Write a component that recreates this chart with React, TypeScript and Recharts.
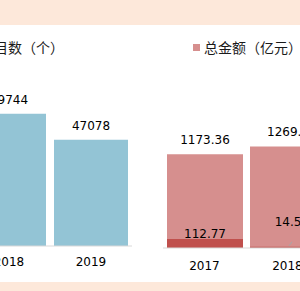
import { BarChart, Bar, XAxis, YAxis, LabelList } from 'recharts';

// project count (left panel, partly cut off)
const countYears = ['2018', '2019'];
const countValues = [49744, 47078];

// total amount (right panel), with the dark inner part
const amountYears = ['2017', '2018'];
const amountTotals = [1173.36, 1269.8];
const amountParts = [112.77, 14.5];

const BLUE = '#93c4d5';
const PINK = '#d68f8e';
const DARK = '#c0504d';
const PEACH = '#fde8da';
const AXIS = '#d9d9d9';
const FONT = '"DejaVu Sans", Verdana, sans-serif';
const CJK = '"Noto Sans CJK SC", "Noto Sans", sans-serif';

const tickStyle = { fontSize: 12, fill: '#000', fontFamily: FONT };

function PartLabel(props: any) {
  const { x, y, width, height, value } = props;
  const cx = x + width / 2;
  if (height < 4) {
    return (
      <g>
        <line x1={cx + 1} y1={y - 1} x2={cx + 4} y2={y - 5} stroke="#a6a6a6" />
        <text x={cx} y={y - 21} textAnchor="middle" fontSize={12} fontFamily={FONT} fill="#000">
          {value}
        </text>
      </g>
    );
  }
  return (
    <text x={cx} y={y - 1} textAnchor="middle" fontSize={12} fontFamily={FONT} fill="#000">
      {value}
    </text>
  );
}

export default function App() {
  const countData = countYears.map((year, i) => ({ year, count: countValues[i] }));
  const amountData = amountYears.map((year, i) => ({
    year,
    total: amountTotals[i],
    part: amountParts[i],
  }));

  return (
    <div
      style={{
        position: 'absolute',
        left: 0,
        top: 0,
        width: 300,
        height: 291,
        overflow: 'hidden',
        background: PEACH,
      }}
    >
      <div style={{ position: 'absolute', left: 0, top: 25, width: 300, height: 257, background: '#fff' }} />

      <div
        style={{
          position: 'absolute',
          left: -20,
          top: 40,
          fontFamily: CJK,
          fontSize: 14,
          lineHeight: '14px',
          color: '#1a1a1a',
          whiteSpace: 'nowrap',
        }}
      >
        项目数（个）
      </div>

      <div
        style={{
          position: 'absolute',
          left: 193,
          top: 40,
          display: 'flex',
          alignItems: 'center',
          fontFamily: CJK,
          fontSize: 14,
          lineHeight: '14px',
          color: '#1a1a1a',
          whiteSpace: 'nowrap',
        }}
      >
        <span style={{ display: 'inline-block', width: 7, height: 7, background: PINK, marginRight: 4 }} />
        总金额（亿元）
      </div>

      <div style={{ position: 'absolute', left: -32, top: 0 }}>
        <BarChart
          width={164}
          height={291}
          data={countData}
          margin={{ top: 86, right: 0, bottom: 15, left: 0 }}
        >
          <XAxis
            dataKey="year"
            axisLine={{ stroke: AXIS }}
            tickLine={false}
            tick={tickStyle}
            tickMargin={5}
            interval={0}
          />
          <YAxis hide domain={[36200, 52600]} />
          <Bar dataKey="count" fill={BLUE} barSize={74} isAnimationActive={false}>
            <LabelList dataKey="count" position="top" offset={10} style={tickStyle} />
          </Bar>
        </BarChart>
      </div>

      <div style={{ position: 'absolute', left: 163, top: 0 }}>
        <BarChart
          width={166}
          height={291}
          data={amountData}
          barGap={-76}
          margin={{ top: 72, right: 0, bottom: 13, left: 0 }}
        >
          <XAxis
            dataKey="year"
            axisLine={{ stroke: AXIS }}
            tickLine={false}
            tick={tickStyle}
            tickMargin={7}
            interval={0}
          />
          <YAxis hide domain={[0, 2200]} />
          <Bar dataKey="total" fill={PINK} barSize={76} isAnimationActive={false}>
            <LabelList dataKey="total" position="top" offset={10} style={tickStyle} />
          </Bar>
          <Bar dataKey="part" fill={DARK} barSize={76} isAnimationActive={false}>
            <LabelList dataKey="part" content={PartLabel} />
          </Bar>
        </BarChart>
      </div>
    </div>
  );
}
